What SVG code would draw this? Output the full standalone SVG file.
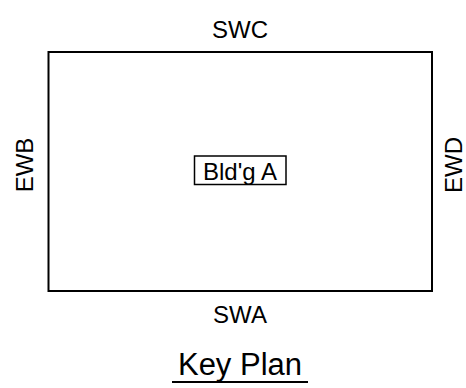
<svg xmlns="http://www.w3.org/2000/svg" width="466" height="388" viewBox="0 0 466 388">
<style>
text{font-family:"Liberation Sans",Arial,sans-serif;fill:#000}
.lbl{font-size:24px;text-anchor:middle}
</style>
<rect width="466" height="388" fill="#fff"/>
<g id="plan">
<rect x="48.5" y="52" width="383.5" height="239" fill="none" stroke="#000" stroke-width="2"/>
</g>
<g id="bldgA">
<rect x="194.5" y="156" width="91.5" height="28.5" fill="none" stroke="#000" stroke-width="1.5"/>
<text class="lbl" x="240" y="179.5" font-size="25">Bld'g A</text>
</g>
<g id="labels">
<text class="lbl" x="240" y="38">SWC</text>
<text class="lbl" x="240" y="323">SWA</text>
<text class="lbl" transform="translate(33,165) rotate(-90)">EWB</text>
<text class="lbl" transform="translate(462,165) rotate(-90)">EWD</text>
</g>
<g id="title">
<text x="240" y="375" font-size="31" text-anchor="middle">Key Plan</text>
<line x1="172" y1="382" x2="308" y2="382" stroke="#000" stroke-width="2"/>
</g>
</svg>
